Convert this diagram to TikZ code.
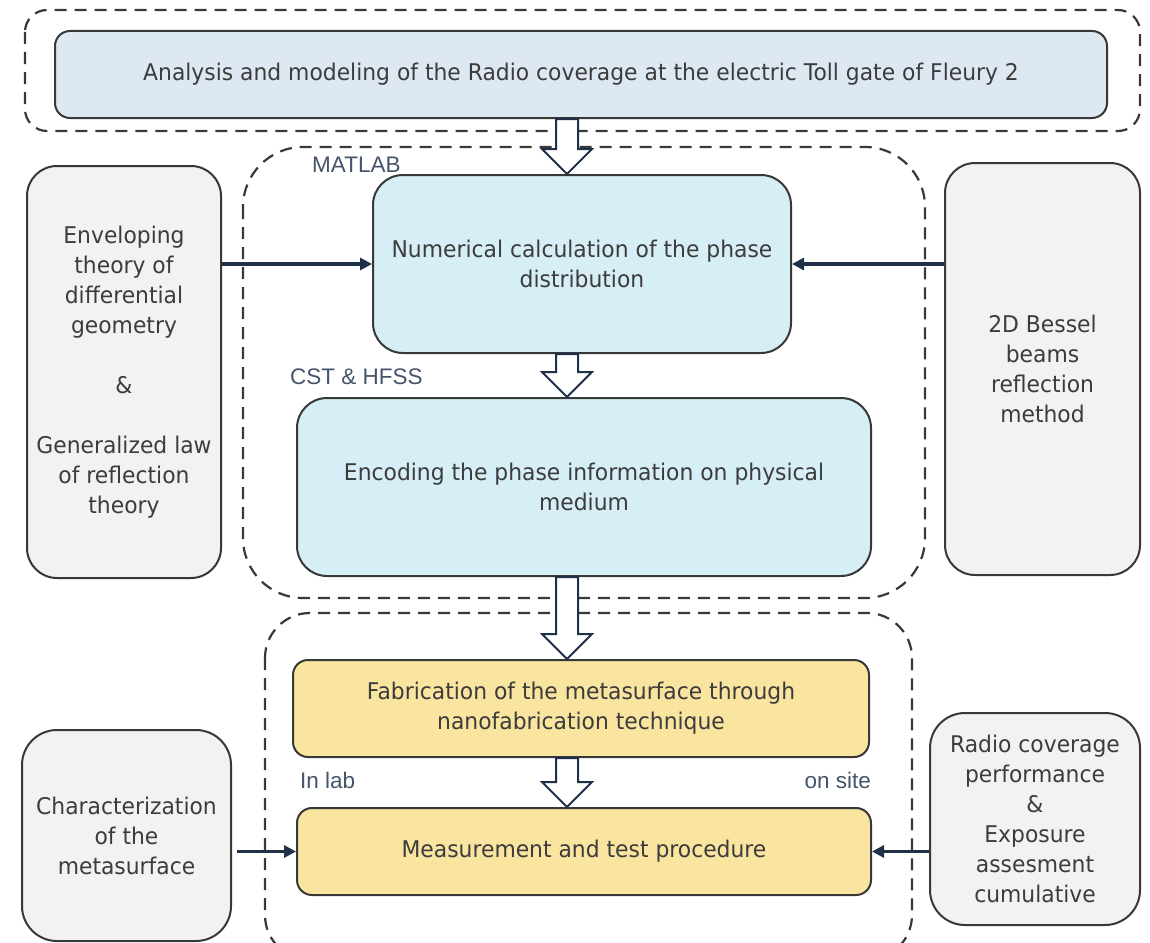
\documentclass[tikz,border=0pt]{standalone}
\usepackage{fontspec}
\setmainfont[FakeStretch=0.95]{DejaVu Sans}
\newfontfamily\lblfont{Liberation Sans}
\usetikzlibrary{calc,arrows.meta}
\definecolor{txt}{HTML}{3C3C3C}
\definecolor{edge}{HTML}{383838}
\definecolor{navy}{HTML}{1F3049}
\definecolor{lbl}{HTML}{44546A}
\definecolor{topfill}{HTML}{DEE8F3}
\definecolor{bluefill}{HTML}{D6EEF6}
\definecolor{grayfill}{HTML}{F2F2F2}
\definecolor{yellowfill}{HTML}{F9E4A0}
\begin{document}
\begin{tikzpicture}[x=1pt,y=-1pt,
  box/.style={draw=edge, line width=2pt, rounded corners=#1, align=center, text=txt,
    font=\fontsize{23}{30}\selectfont, inner sep=0pt},
  box/.default=15pt,
  group/.style={draw=edge, line width=2.2pt, dash pattern=on 12pt off 8pt, rounded corners=#1},
  conn/.style={draw=navy, line width=3.4pt, -{Triangle[length=12pt,width=12pt]}},
  barrow/.style={draw=navy, fill=white, line width=2pt, line join=miter},
  lbl/.style={text=lbl, font=\lblfont\fontsize{22.5}{26}\selectfont, inner sep=0pt}
]
\useasboundingbox (0,0) rectangle (1150,942);
\clip (0,0) rectangle (1150,942);

% dashed groups
\draw[group=22pt] (25,10) rectangle (1140,131);
\draw[group=60pt] (243,147) rectangle (925,598);
\draw[group=45pt] (265,613) rectangle (912,960);

% main boxes
\node[box=15pt, fill=topfill, minimum width=1052pt, minimum height=87pt] (top) at (581,74.5)
  {Analysis and modeling of the Radio coverage at the electric Toll gate of Fleury 2};
\node[box=30pt, fill=bluefill, minimum width=418pt, minimum height=178pt] (num) at (582,264)
  {Numerical calculation of the phase\\distribution};
\node[box=30pt, fill=bluefill, minimum width=574pt, minimum height=178pt] (enc) at (584,487)
  {Encoding the phase information on physical\\medium};
\node[box=15pt, fill=yellowfill, minimum width=576pt, minimum height=97pt] (fab) at (581,708.5)
  {Fabrication of the metasurface through\\nanofabrication technique};
\node[box=15pt, fill=yellowfill, minimum width=574pt, minimum height=87pt] (meas) at (584,851.5)
  {Measurement and test procedure};

% side boxes
\node[box=30pt, fill=grayfill, minimum width=194pt, minimum height=412pt] (left) at (124,372)
  {Enveloping\\theory of\\differential\\geometry\\[30pt]\&\\[30pt]Generalized law\\of reflection\\theory};
\node[box=30pt, fill=grayfill, minimum width=195pt, minimum height=412pt] (right) at (1042.5,369)
  {2D Bessel\\beams\\reflection\\method};
\node[box=35pt, fill=grayfill, minimum width=209pt, minimum height=211pt] (char) at (126.5,835.5)
  {Characterization\\of the\\metasurface};
\node[box=35pt, fill=grayfill, minimum width=210pt, minimum height=212pt] (rb) at (1035,819)
  {Radio coverage\\performance\\\&\\Exposure\\assesment\\cumulative};

% labels
\node[lbl, anchor=west] (matlab) at (312,165) {MATLAB};
\node[lbl, anchor=west] (cst) at (290,377) {CST \& HFSS};
\node[lbl, anchor=west] (inlab) at (300,780) {In lab};
\node[lbl, anchor=east] (onsite) at (871,780) {on site};

% connectors
\draw[conn] (left.east |- num.west) -- (num.west);
\draw[conn] (right.west |- num.east) -- (num.east);
\draw[conn, shorten <=5pt] (char.east |- meas.west) -- (meas.west);
\draw[conn] (rb.west |- meas.east) -- (meas.east);

% block arrows
\coordinate (ax) at (567,0);
\newcommand\blockarrow[2]{%
  \draw[barrow] let \p1=(ax |- #1.south), \p2=(ax |- #2.north) in
    (\x1-11pt,\y1) -- (\x1-11pt,\y2+25pt) -- (\x1-25pt,\y2+25pt) -- (\x1,\y2)
    -- (\x1+25pt,\y2+25pt) -- (\x1+11pt,\y2+25pt) -- (\x1+11pt,\y1) -- cycle;}
\blockarrow{top}{num}
\blockarrow{num}{enc}
\blockarrow{enc}{fab}
\blockarrow{fab}{meas}
\end{tikzpicture}
\end{document}
